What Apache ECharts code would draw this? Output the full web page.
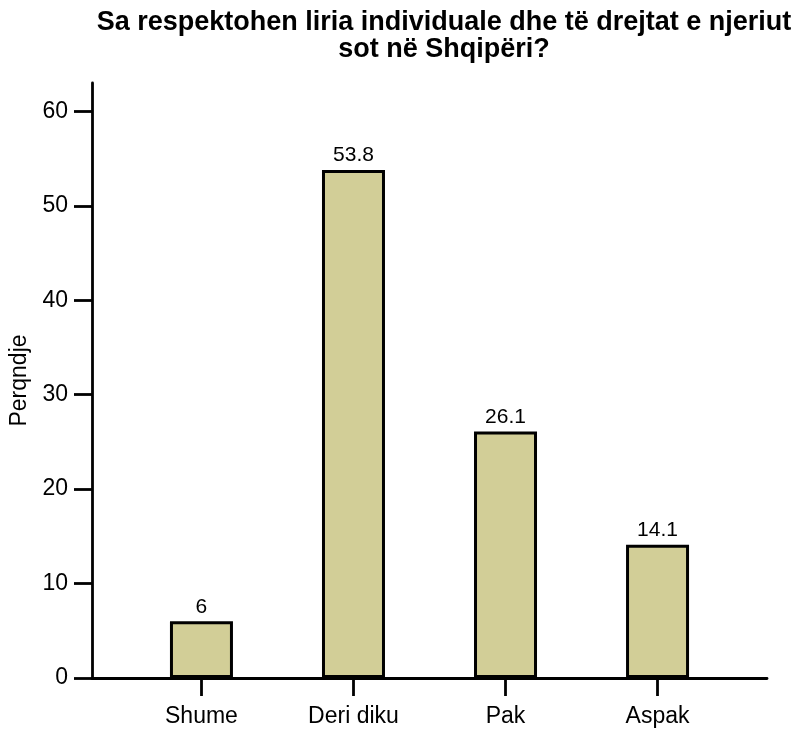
<!DOCTYPE html>
<html>
<head>
<meta charset="utf-8">
<script src="https://cdn.jsdelivr.net/npm/echarts@6/dist/echarts.min.js"></script>
<style>
  html, body { margin: 0; padding: 0; background: #fff; }
  #chart { width: 791px; height: 731px; }
</style>
</head>
<body>
<div id="chart"></div>
<script>
const categories = ['Shume', 'Deri diku', 'Pak', 'Aspak']
const values = [6, 53.8, 26.1, 14.1]
const yTicks = [0, 10, 20, 30, 40, 50, 60]

const FONT = '"Liberation Sans", Arial, sans-serif'

const chart = echarts.init(document.getElementById('chart'))

const positions = categories.map((_, i) => i)

chart.setOption({
  animation: false,
  textStyle: { fontFamily: FONT, color: '#000' },
  title: {
    text: 'Sa respektohen liria individuale dhe të drejtat e njeriut\nsot në Shqipëri?',
    left: 439,
    top: 4,
    textAlign: 'center',
    textStyle: {
      fontFamily: FONT,
      fontSize: 27,
      fontWeight: 'bold',
      color: '#000',
      lineHeight: 27
    }
  },
  grid: {
    left: 92,
    right: 24,
    top: 83,
    bottom: 53
  },
  xAxis: {
    type: 'value',
    min: -0.72,
    max: 3.72,
    splitLine: { show: false },
    axisLine: { show: true, onZero: false, lineStyle: { color: '#000', width: 2.8 } },
    axisTick: {
      show: true,
      customValues: positions,
      length: 18,
      lineStyle: { color: '#000', width: 2.8 }
    },
    axisLabel: {
      customValues: positions,
      margin: 27,
      fontSize: 23,
      color: '#000',
      fontFamily: FONT,
      formatter: (v) => categories[Math.round(v)]
    }
  },
  yAxis: {
    type: 'value',
    min: 0,
    max: 63,
    interval: 10,
    name: 'Perqndje',
    nameLocation: 'middle',
    nameGap: 50,
    nameRotate: 90,
    nameTextStyle: { fontSize: 23, color: '#000', fontFamily: FONT },
    splitLine: { show: false },
    axisLine: { show: true, onZero: false, lineStyle: { color: '#000', width: 2.8 } },
    axisTick: {
      show: true,
      customValues: yTicks,
      length: 18,
      lineStyle: { color: '#000', width: 2.8 }
    },
    axisLabel: {
      customValues: yTicks,
      margin: 24,
      fontSize: 23,
      color: '#000',
      fontFamily: FONT
    }
  },
  series: [
    {
      type: 'bar',
      data: values.map((v, i) => [i, v]),
      barWidth: 63,
      itemStyle: {
        color: '#d2ce97',
        borderColor: '#000',
        borderWidth: 3
      },
      label: {
        show: true,
        position: 'top',
        distance: 4,
        fontSize: 21,
        color: '#000',
        fontFamily: FONT,
        formatter: (p) => p.value[1]
      }
    }
  ]
})
</script>
</body>
</html>
